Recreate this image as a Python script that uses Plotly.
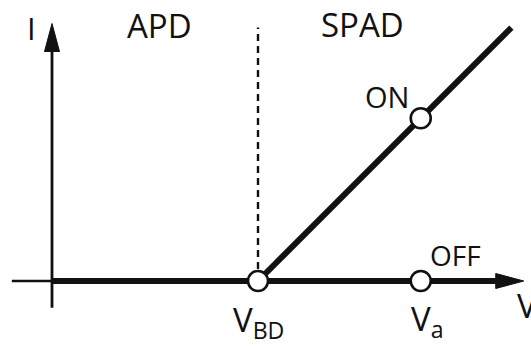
import plotly.graph_objects as go

# ---- data (conceptual units: V on x, I on y) ----
V_BD = 10.0          # breakdown voltage
V_A = 17.9           # applied (operating) voltage
SPAD_SLOPE = 1.0     # dI/dV above breakdown
V_AXIS = [-1.95, 0.0, 22.9]   # left stub start, origin, arrow tip
I_AXIS = [-1.3, 12.5]         # bottom stub, arrow tip
V_SPAD_END = 22.3
DASH_TOP = 12.3
REGION_LABELS = ["APD", "SPAD"]
STATE_LABELS = ["ON", "OFF"]

I_ON = SPAD_SLOPE * (V_A - V_BD)
I_SPAD_END = SPAD_SLOPE * (V_SPAD_END - V_BD)

# ---- layout geometry ----
W, H = 531, 346
PX = 20.6                 # pixels per unit
X0_PX, Y0_PX = 52, 281    # pixel position of the origin
x_range = [-X0_PX / PX, (W - X0_PX) / PX]
y_range = [-(H - Y0_PX) / PX, Y0_PX / PX]

HEAD_LEN = 28 / PX
HEAD_HALF = 7.5 / PX

FONT = "Open Sans, Segoe UI, sans-serif"
BLACK = "#111111"

fig = go.Figure()

# vertical I axis (thin) up to arrowhead base
fig.add_trace(go.Scatter(x=[0, 0], y=[I_AXIS[0], I_AXIS[1] - HEAD_LEN + 0.1],
                         mode="lines", line=dict(color=BLACK, width=2.8),
                         hoverinfo="skip"))
# vertical arrowhead
fig.add_trace(go.Scatter(x=[-HEAD_HALF, 0, HEAD_HALF, -HEAD_HALF],
                         y=[I_AXIS[1] - HEAD_LEN, I_AXIS[1], I_AXIS[1] - HEAD_LEN, I_AXIS[1] - HEAD_LEN],
                         mode="lines", fill="toself", fillcolor=BLACK,
                         line=dict(color=BLACK, width=1), hoverinfo="skip"))
# thin stub of V axis left of origin
fig.add_trace(go.Scatter(x=[V_AXIS[0], V_AXIS[1]], y=[0, 0],
                         mode="lines", line=dict(color=BLACK, width=2.4),
                         hoverinfo="skip"))
# thick V axis (OFF branch / APD region)
fig.add_trace(go.Scatter(x=[V_AXIS[1], V_AXIS[2] - HEAD_LEN + 0.1], y=[0, 0],
                         mode="lines", line=dict(color=BLACK, width=6),
                         hoverinfo="skip"))
# horizontal arrowhead
fig.add_trace(go.Scatter(x=[V_AXIS[2] - HEAD_LEN, V_AXIS[2], V_AXIS[2] - HEAD_LEN, V_AXIS[2] - HEAD_LEN],
                         y=[-HEAD_HALF, 0, HEAD_HALF, -HEAD_HALF],
                         mode="lines", fill="toself", fillcolor=BLACK,
                         line=dict(color=BLACK, width=1), hoverinfo="skip"))
# dashed breakdown line
fig.add_trace(go.Scatter(x=[V_BD, V_BD], y=[0, DASH_TOP],
                         mode="lines", line=dict(color=BLACK, width=2.4, dash="7px,5px"),
                         hoverinfo="skip"))
# SPAD ON branch
fig.add_trace(go.Scatter(x=[V_BD, V_SPAD_END], y=[0, I_SPAD_END],
                         mode="lines", line=dict(color=BLACK, width=6),
                         hoverinfo="skip"))
# operating points
fig.add_trace(go.Scatter(x=[V_BD, V_A, V_A], y=[0, 0, I_ON], mode="markers",
                         marker=dict(size=20, color="white", line=dict(color=BLACK, width=2.6)),
                         hoverinfo="skip"))

ann = []
def label(text, x, y, size, xs=0, ys=0, xanchor="center"):
    ann.append(dict(text=text, x=x, y=y, xref="x", yref="y", showarrow=False,
                    xanchor=xanchor, yanchor="middle", xshift=xs, yshift=ys,
                    font=dict(family=FONT, size=size, color=BLACK)))

label("I", 0, I_AXIS[1], 31, xs=-21, ys=-4)
label(REGION_LABELS[0], V_BD / 2, I_AXIS[1], 33, xs=4, ys=-2)
label(REGION_LABELS[1], (V_BD + V_SPAD_END) / 2, I_AXIS[1], 33, xs=-22, ys=-1)
label(STATE_LABELS[0], V_A, I_ON, 29, xs=-34, ys=22)
label(STATE_LABELS[1], V_A, 0, 28, xs=35, ys=26)
label("V<sub>BD</sub>", V_BD, 0, 33, xs=0, ys=-40)
label("V<sub>a</sub>", V_A, 0, 33, xs=7, ys=-39)
label("V", V_AXIS[2], 0, 33, xs=-9, ys=-24, xanchor="left")

fig.update_layout(
    width=W, height=H, margin=dict(l=0, r=0, t=0, b=0),
    paper_bgcolor="white", plot_bgcolor="white", showlegend=False,
    xaxis=dict(range=x_range, visible=False, fixedrange=True),
    yaxis=dict(range=y_range, visible=False, fixedrange=True),
    annotations=ann,
)
fig.write_html("out.html", config={"displayModeBar": False},
               post_script="document.body.style.margin='0';document.body.style.overflow='hidden';")
